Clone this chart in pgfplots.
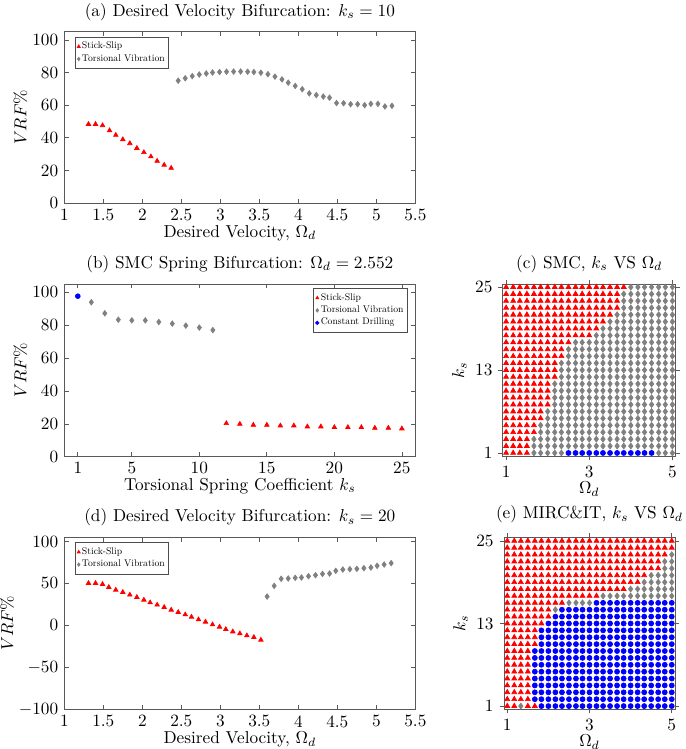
\documentclass[border=0pt]{standalone}
\usepackage{graphicx}
\usepackage{pgfplots}
\pgfplotsset{compat=1.18}
\definecolor{tvgray}{RGB}{128,128,128}
\newcommand\lt[1]{\scalebox{0.56}{#1}}
\pgfplotsset{
  base/.style={scale only axis, anchor=north west,
    axis line style={black!65}, every tick/.style={black!65},
    tick align=inside, major tick length=2.5pt,
    title style={yshift=-3pt}, xlabel shift=-4.5pt, ylabel shift=-4pt},
  ss/.style={only marks, mark=triangle*, mark size=1.5pt, color=red},
  tv/.style={only marks, mark=diamond*, mark size=1.6pt, color=tvgray},
  cd/.style={only marks, mark=*, mark size=1.4pt, color=blue},
  gss/.style={only marks, mark=triangle*, mark size=1.65pt, color=red},
  gtv/.style={only marks, mark=diamond*, mark size=1.7pt, color=tvgray},
  gcd/.style={only marks, mark=*, mark size=1.45pt, color=blue},
  leg/.style={legend style={draw=black!70, inner sep=1.2pt, row sep=-1.2pt, legend cell align=left,
    nodes={inner xsep=1pt, inner ysep=1.5pt}},
    legend image code/.code={\draw[##1, mark size=1pt] plot coordinates {(0.05cm,0cm)};}}
}
\begin{document}
\begin{tikzpicture}
\useasboundingbox (0,0) rectangle (397.3pt,-434.4pt);
% (a)
\begin{axis}[base, at={(37.3pt,-18.4pt)}, width=203.6pt, height=99.4pt,
  xmin=1, xmax=5.5, ymin=0, ymax=105,
  xtick={1,1.5,2,2.5,3,3.5,4,4.5,5,5.5}, xticklabels={1,1.5,2,2.5,3,3.5,4,4.5,5,5.5},
  ytick={0,20,40,60,80,100},
  title={(a) Desired Velocity Bifurcation: $k_s=10$},
  xlabel={Desired Velocity, $\Omega_d$}, ylabel={$VRF\%$},
  leg, legend style={at={(0.03,0.97)}, anchor=north west}]
\addplot[ss] coordinates {(1.31,48.4)(1.40,48.4)(1.49,47.6)(1.58,44.5)(1.66,41.7)(1.75,39.0)(1.84,36.6)(1.93,33.7)(2.02,31.1)(2.11,28.5)(2.19,25.8)(2.28,23.4)(2.37,21.5)};
\addplot[tv] coordinates {(2.46,75.0)(2.55,76.5)(2.64,77.8)(2.73,78.8)(2.82,79.4)(2.90,80.0)(2.99,80.3)(3.08,80.5)(3.17,80.6)(3.26,80.6)(3.35,80.5)(3.43,80.3)(3.52,79.9)(3.61,79.0)(3.70,77.5)(3.79,75.8)(3.87,73.8)(3.96,71.8)(4.05,69.8)(4.14,67.2)(4.23,66.2)(4.32,65.3)(4.40,64.6)(4.49,61.3)(4.58,61.2)(4.67,60.6)(4.76,60.6)(4.85,60.0)(4.93,60.8)(5.02,60.8)(5.11,59.2)(5.20,59.6)};
\legend{\lt{Stick-Slip}, \lt{Torsional Vibration}}
\end{axis}
% (b)
\begin{axis}[base, at={(37.3pt,-164.7pt)}, width=203.6pt, height=100.2pt,
  xmin=0, xmax=26, ymin=0, ymax=105,
  xtick={1,5,10,15,20,25}, ytick={0,20,40,60,80,100},
  title={(b) SMC Spring Bifurcation: $\Omega_d=2.552$},
  xlabel={Torsional Spring Coefficient $k_s$}, ylabel={$VRF\%$},
  leg, legend style={at={(0.978,0.975)}, anchor=north east}]
\addplot[ss] coordinates {(12,20.3)(13,19.9)(14,19.3)(15,19.3)(16,18.9)(17,18.9)(18,18.3)(19,18.3)(20,17.9)(21,17.9)(22,17.9)(23,17.5)(24,17.5)(25,17.1)};
\addplot[tv] coordinates {(2,93.9)(3,87.2)(4,83.3)(5,82.9)(6,82.9)(7,81.9)(8,80.9)(9,79.7)(10,78.5)(11,77.0)};
\addplot[cd] coordinates {(1,97.6)};
\legend{\lt{Stick-Slip}, \lt{Torsional Vibration}, \lt{Constant Drilling}}
\end{axis}
% (d)
\begin{axis}[base, at={(37.3pt,-311.6pt)}, width=203.6pt, height=99.8pt,
  xmin=1, xmax=5.5, ymin=-100, ymax=105,
  xtick={1,1.5,2,2.5,3,3.5,4,4.5,5,5.5}, xticklabels={1,1.5,2,2.5,3,3.5,4,4.5,5,5.5},
  ytick={-100,-50,0,50,100},
  title={(d) Desired Velocity Bifurcation: $k_s=20$},
  xlabel={Desired Velocity, $\Omega_d$}, ylabel={$VRF\%$},
  leg, legend style={at={(0.03,0.97)}, anchor=north west}]
\addplot[ss] coordinates {(1.31,50.3)(1.40,50.3)(1.49,49.1)(1.57,45.5)(1.66,42.3)(1.75,39.6)(1.84,36.4)(1.93,33.6)(2.02,30.4)(2.10,27.2)(2.19,24.5)(2.28,21.7)(2.37,18.5)(2.46,15.7)(2.55,12.9)(2.63,10.1)(2.72,7.0)(2.81,4.2)(2.90,1.0)(2.99,-1.8)(3.07,-4.6)(3.16,-7.4)(3.25,-9.7)(3.34,-12.1)(3.43,-14.1)(3.52,-17.3)};
\addplot[tv] coordinates {(3.60,34.4)(3.69,47.1)(3.78,55.5)(3.87,55.9)(3.96,56.7)(4.04,57.1)(4.13,58.6)(4.22,59.8)(4.31,61.4)(4.40,61.8)(4.48,65.0)(4.57,66.6)(4.66,67.0)(4.75,67.4)(4.84,68.2)(4.93,69.0)(5.01,71.0)(5.10,72.6)(5.19,74.2)};
\legend{\lt{Stick-Slip}, \lt{Torsional Vibration}}
\end{axis}
% (c)
\begin{axis}[base, at={(291.6pt,-164.7pt)}, width=100.3pt, height=99.8pt,
  xmin=0.92, xmax=5.08, ymin=0.55, ymax=25.45, tick align=outside,
  xtick={1,3,5}, ytick={1,13,25}, ylabel shift=-2pt,
  title={(c) SMC, $k_s$ VS $\Omega_d$},
  xlabel={$\Omega_d$}, ylabel={$k_s$}]
\addplot[gss] coordinates {
(1,25)(1.17,25)(1.33,25)(1.5,25)(1.67,25)(1.83,25)(2,25)(2.17,25)(2.33,25)(2.5,25)(2.67,25)(2.83,25)(3,25)(3.17,25)(3.33,25)(3.5,25)(3.67,25)(3.83,25)
(1,24)(1.17,24)(1.33,24)(1.5,24)(1.67,24)(1.83,24)(2,24)(2.17,24)(2.33,24)(2.5,24)(2.67,24)(2.83,24)(3,24)(3.17,24)(3.33,24)(3.5,24)(3.67,24)
(1,23)(1.17,23)(1.33,23)(1.5,23)(1.67,23)(1.83,23)(2,23)(2.17,23)(2.33,23)(2.5,23)(2.67,23)(2.83,23)(3,23)(3.17,23)(3.33,23)(3.5,23)(3.67,23)
(1,22)(1.17,22)(1.33,22)(1.5,22)(1.67,22)(1.83,22)(2,22)(2.17,22)(2.33,22)(2.5,22)(2.67,22)(2.83,22)(3,22)(3.17,22)(3.33,22)(3.5,22)(3.67,22)
(1,21)(1.17,21)(1.33,21)(1.5,21)(1.67,21)(1.83,21)(2,21)(2.17,21)(2.33,21)(2.5,21)(2.67,21)(2.83,21)(3,21)(3.17,21)(3.33,21)(3.5,21)
(1,20)(1.17,20)(1.33,20)(1.5,20)(1.67,20)(1.83,20)(2,20)(2.17,20)(2.33,20)(2.5,20)(2.67,20)(2.83,20)(3,20)(3.17,20)(3.33,20)
(1,19)(1.17,19)(1.33,19)(1.5,19)(1.67,19)(1.83,19)(2,19)(2.17,19)(2.33,19)(2.5,19)(2.67,19)(2.83,19)(3,19)(3.17,19)
(1,18)(1.17,18)(1.33,18)(1.5,18)(1.67,18)(1.83,18)(2,18)(2.17,18)(2.33,18)(2.5,18)(2.67,18)(2.83,18)(3,18)
(1,17)(1.17,17)(1.33,17)(1.5,17)(1.67,17)(1.83,17)(2,17)(2.17,17)(2.33,17)(2.5,17)
(1,16)(1.17,16)(1.33,16)(1.5,16)(1.67,16)(1.83,16)(2,16)(2.17,16)(2.33,16)
(1,15)(1.17,15)(1.33,15)(1.5,15)(1.67,15)(1.83,15)(2,15)(2.17,15)(2.33,15)
(1,14)(1.17,14)(1.33,14)(1.5,14)(1.67,14)(1.83,14)(2,14)(2.17,14)
(1,13)(1.17,13)(1.33,13)(1.5,13)(1.67,13)(1.83,13)(2,13)(2.17,13)
(1,12)(1.17,12)(1.33,12)(1.5,12)(1.67,12)(1.83,12)(2,12)(2.17,12)
(1,11)(1.17,11)(1.33,11)(1.5,11)(1.67,11)(1.83,11)(2,11)
(1,10)(1.17,10)(1.33,10)(1.5,10)(1.67,10)(1.83,10)(2,10)
(1,9)(1.17,9)(1.33,9)(1.5,9)(1.67,9)(1.83,9)(2,9)
(1,8)(1.17,8)(1.33,8)(1.5,8)(1.67,8)(1.83,8)(2,8)
(1,7)(1.17,7)(1.33,7)(1.5,7)(1.67,7)(1.83,7)
(1,6)(1.17,6)(1.33,6)(1.5,6)(1.67,6)(1.83,6)
(1,5)(1.17,5)(1.33,5)(1.5,5)(1.67,5)
(1,4)(1.17,4)(1.33,4)(1.5,4)(1.67,4)
(1,3)(1.17,3)(1.33,3)(1.5,3)
(1,2)(1.17,2)(1.33,2)(1.5,2)
(1,1)(1.17,1)(1.33,1)(1.5,1)
};
\addplot[gtv] coordinates {
(4,25)(4.17,25)(4.33,25)(4.5,25)(4.67,25)(4.83,25)(5,25)
(3.83,24)(4,24)(4.17,24)(4.33,24)(4.5,24)(4.67,24)(4.83,24)(5,24)
(3.83,23)(4,23)(4.17,23)(4.33,23)(4.5,23)(4.67,23)(4.83,23)(5,23)
(3.83,22)(4,22)(4.17,22)(4.33,22)(4.5,22)(4.67,22)(4.83,22)(5,22)
(3.67,21)(3.83,21)(4,21)(4.17,21)(4.33,21)(4.5,21)(4.67,21)(4.83,21)(5,21)
(3.5,20)(3.67,20)(3.83,20)(4,20)(4.17,20)(4.33,20)(4.5,20)(4.67,20)(4.83,20)(5,20)
(3.33,19)(3.5,19)(3.67,19)(3.83,19)(4,19)(4.17,19)(4.33,19)(4.5,19)(4.67,19)(4.83,19)(5,19)
(3.17,18)(3.33,18)(3.5,18)(3.67,18)(3.83,18)(4,18)(4.17,18)(4.33,18)(4.5,18)(4.67,18)(4.83,18)(5,18)
(2.67,17)(2.83,17)(3,17)(3.17,17)(3.33,17)(3.5,17)(3.67,17)(3.83,17)(4,17)(4.17,17)(4.33,17)(4.5,17)(4.67,17)(4.83,17)(5,17)
(2.5,16)(2.67,16)(2.83,16)(3,16)(3.17,16)(3.33,16)(3.5,16)(3.67,16)(3.83,16)(4,16)(4.17,16)(4.33,16)(4.5,16)(4.67,16)(4.83,16)(5,16)
(2.5,15)(2.67,15)(2.83,15)(3,15)(3.17,15)(3.33,15)(3.5,15)(3.67,15)(3.83,15)(4,15)(4.17,15)(4.33,15)(4.5,15)(4.67,15)(4.83,15)(5,15)
(2.33,14)(2.5,14)(2.67,14)(2.83,14)(3,14)(3.17,14)(3.33,14)(3.5,14)(3.67,14)(3.83,14)(4,14)(4.17,14)(4.33,14)(4.5,14)(4.67,14)(4.83,14)(5,14)
(2.33,13)(2.5,13)(2.67,13)(2.83,13)(3,13)(3.17,13)(3.33,13)(3.5,13)(3.67,13)(3.83,13)(4,13)(4.17,13)(4.33,13)(4.5,13)(4.67,13)(4.83,13)(5,13)
(2.33,12)(2.5,12)(2.67,12)(2.83,12)(3,12)(3.17,12)(3.33,12)(3.5,12)(3.67,12)(3.83,12)(4,12)(4.17,12)(4.33,12)(4.5,12)(4.67,12)(4.83,12)(5,12)
(2.17,11)(2.33,11)(2.5,11)(2.67,11)(2.83,11)(3,11)(3.17,11)(3.33,11)(3.5,11)(3.67,11)(3.83,11)(4,11)(4.17,11)(4.33,11)(4.5,11)(4.67,11)(4.83,11)(5,11)
(2.17,10)(2.33,10)(2.5,10)(2.67,10)(2.83,10)(3,10)(3.17,10)(3.33,10)(3.5,10)(3.67,10)(3.83,10)(4,10)(4.17,10)(4.33,10)(4.5,10)(4.67,10)(4.83,10)(5,10)
(2.17,9)(2.33,9)(2.5,9)(2.67,9)(2.83,9)(3,9)(3.17,9)(3.33,9)(3.5,9)(3.67,9)(3.83,9)(4,9)(4.17,9)(4.33,9)(4.5,9)(4.67,9)(4.83,9)(5,9)
(2.17,8)(2.33,8)(2.5,8)(2.67,8)(2.83,8)(3,8)(3.17,8)(3.33,8)(3.5,8)(3.67,8)(3.83,8)(4,8)(4.17,8)(4.33,8)(4.5,8)(4.67,8)(4.83,8)(5,8)
(2,7)(2.17,7)(2.33,7)(2.5,7)(2.67,7)(2.83,7)(3,7)(3.17,7)(3.33,7)(3.5,7)(3.67,7)(3.83,7)(4,7)(4.17,7)(4.33,7)(4.5,7)(4.67,7)(4.83,7)(5,7)
(2,6)(2.17,6)(2.33,6)(2.5,6)(2.67,6)(2.83,6)(3,6)(3.17,6)(3.33,6)(3.5,6)(3.67,6)(3.83,6)(4,6)(4.17,6)(4.33,6)(4.5,6)(4.67,6)(4.83,6)(5,6)
(1.83,5)(2,5)(2.17,5)(2.33,5)(2.5,5)(2.67,5)(2.83,5)(3,5)(3.17,5)(3.33,5)(3.5,5)(3.67,5)(3.83,5)(4,5)(4.17,5)(4.33,5)(4.5,5)(4.67,5)(4.83,5)(5,5)
(1.83,4)(2,4)(2.17,4)(2.33,4)(2.5,4)(2.67,4)(2.83,4)(3,4)(3.17,4)(3.33,4)(3.5,4)(3.67,4)(3.83,4)(4,4)(4.17,4)(4.33,4)(4.5,4)(4.67,4)(4.83,4)(5,4)
(1.67,3)(1.83,3)(2,3)(2.17,3)(2.33,3)(2.5,3)(2.67,3)(2.83,3)(3,3)(3.17,3)(3.33,3)(3.5,3)(3.67,3)(3.83,3)(4,3)(4.17,3)(4.33,3)(4.5,3)(4.67,3)(4.83,3)(5,3)
(1.67,2)(1.83,2)(2,2)(2.17,2)(2.33,2)(2.5,2)(2.67,2)(2.83,2)(3,2)(3.17,2)(3.33,2)(3.5,2)(3.67,2)(3.83,2)(4,2)(4.17,2)(4.33,2)(4.5,2)(4.67,2)(4.83,2)(5,2)
(1.67,1)(1.83,1)(2,1)(2.17,1)(2.33,1)(4.67,1)(4.83,1)(5,1)
};
\addplot[gcd] coordinates {
(2.5,1)(2.67,1)(2.83,1)(3,1)(3.17,1)(3.33,1)(3.5,1)(3.67,1)(3.83,1)(4,1)(4.17,1)(4.33,1)(4.5,1)
};
\end{axis}
% (e)
\begin{axis}[base, at={(292.3pt,-311.9pt)}, width=99.2pt, height=99.4pt,
  xmin=0.92, xmax=5.08, ymin=0.55, ymax=25.45, tick align=outside,
  xtick={1,3,5}, ytick={1,13,25}, ylabel shift=-2pt,
  title={(e) MIRC\&IT, $k_s$ VS $\Omega_d$}, title style={yshift=2pt},
  xlabel={$\Omega_d$}, ylabel={$k_s$}]
\addplot[gss] coordinates {
(1,25)(1.17,25)(1.33,25)(1.5,25)(1.67,25)(1.83,25)(2,25)(2.17,25)(2.33,25)(2.5,25)(2.67,25)(2.83,25)(3,25)(3.17,25)(3.33,25)(3.5,25)(3.67,25)(3.83,25)(4,25)(4.17,25)(4.33,25)(4.5,25)(4.67,25)(4.83,25)(5,25)
(1,24)(1.17,24)(1.33,24)(1.5,24)(1.67,24)(1.83,24)(2,24)(2.17,24)(2.33,24)(2.5,24)(2.67,24)(2.83,24)(3,24)(3.17,24)(3.33,24)(3.5,24)(3.67,24)(3.83,24)(4,24)(4.17,24)(4.33,24)(4.5,24)(4.67,24)(4.83,24)(5,24)
(1,23)(1.17,23)(1.33,23)(1.5,23)(1.67,23)(1.83,23)(2,23)(2.17,23)(2.33,23)(2.5,23)(2.67,23)(2.83,23)(3,23)(3.17,23)(3.33,23)(3.5,23)(3.67,23)(3.83,23)(4,23)(4.17,23)(4.33,23)(4.5,23)(4.67,23)(4.83,23)
(1,22)(1.17,22)(1.33,22)(1.5,22)(1.67,22)(1.83,22)(2,22)(2.17,22)(2.33,22)(2.5,22)(2.67,22)(2.83,22)(3,22)(3.17,22)(3.33,22)(3.5,22)(3.67,22)(3.83,22)(4,22)(4.17,22)(4.33,22)(4.5,22)(4.67,22)
(1,21)(1.17,21)(1.33,21)(1.5,21)(1.67,21)(1.83,21)(2,21)(2.17,21)(2.33,21)(2.5,21)(2.67,21)(2.83,21)(3,21)(3.17,21)(3.33,21)(3.5,21)(3.67,21)(3.83,21)(4,21)(4.17,21)(4.33,21)(4.5,21)(4.67,21)
(1,20)(1.17,20)(1.33,20)(1.5,20)(1.67,20)(1.83,20)(2,20)(2.17,20)(2.33,20)(2.5,20)(2.67,20)(2.83,20)(3,20)(3.17,20)(3.33,20)(3.5,20)(3.67,20)(3.83,20)(4,20)(4.17,20)(4.33,20)
(1,19)(1.17,19)(1.33,19)(1.5,19)(1.67,19)(1.83,19)(2,19)(2.17,19)(2.33,19)(2.5,19)(2.67,19)(2.83,19)(3,19)(3.17,19)(3.33,19)(3.5,19)(3.67,19)(3.83,19)(4,19)(4.17,19)
(1,18)(1.17,18)(1.33,18)(1.5,18)(1.67,18)(1.83,18)(2,18)(2.17,18)(2.33,18)(2.5,18)(2.67,18)(2.83,18)(3,18)(3.17,18)(3.33,18)(3.5,18)(3.67,18)(3.83,18)
(1,17)(1.17,17)(1.33,17)(1.5,17)(1.67,17)(1.83,17)(2,17)(2.17,17)(2.33,17)(2.5,17)(2.67,17)(2.83,17)(3,17)(3.17,17)
(1,16)(1.17,16)(1.33,16)(1.5,16)(1.67,16)(1.83,16)(2,16)(2.17,16)(2.33,16)
(1,15)(1.17,15)(1.33,15)(1.5,15)(1.67,15)(1.83,15)(2,15)
(1,14)(1.17,14)(1.33,14)(1.5,14)(1.67,14)(1.83,14)(2,14)
(1,13)(1.17,13)(1.33,13)(1.5,13)(1.67,13)(1.83,13)
(1,12)(1.17,12)(1.33,12)(1.5,12)(1.67,12)
(1,11)(1.17,11)(1.33,11)(1.5,11)(1.67,11)
(1,10)(1.17,10)(1.33,10)(1.5,10)(1.67,10)
(1,9)(1.17,9)(1.33,9)(1.5,9)
(1,8)(1.17,8)(1.33,8)(1.5,8)
(1,7)(1.17,7)(1.33,7)(1.5,7)
(1,6)(1.17,6)(1.33,6)(1.5,6)
(1,5)(1.17,5)(1.33,5)(1.5,5)
(1,4)(1.17,4)(1.33,4)(1.5,4)
(1,3)(1.17,3)(1.33,3)(1.5,3)
(1,2)(1.17,2)(1.33,2)(1.5,2)
(1,1)(1.17,1)(1.5,1)(1.67,1)
};
\addplot[gtv] coordinates {
(5,23)
(4.83,22)(5,22)
(4.83,21)(5,21)
(4.5,20)(4.67,20)(4.83,20)(5,20)
(4.33,19)(4.5,19)(4.67,19)(4.83,19)(5,19)
(4,18)(4.17,18)(4.33,18)(4.5,18)(4.67,18)(4.83,18)(5,18)
(3.33,17)(3.5,17)(3.67,17)(3.83,17)(4,17)(4.17,17)(4.33,17)(4.5,17)(4.67,17)(4.83,17)(5,17)
(2.5,16)(2.67,16)(2.83,16)(3,16)
(2.17,15)
(1.33,1)
};
\addplot[gcd] coordinates {
(3.17,16)(3.33,16)(3.5,16)(3.67,16)(3.83,16)(4,16)(4.17,16)(4.33,16)(4.5,16)(4.67,16)(4.83,16)(5,16)
(2.33,15)(2.5,15)(2.67,15)(2.83,15)(3,15)(3.17,15)(3.33,15)(3.5,15)(3.67,15)(3.83,15)(4,15)(4.17,15)(4.33,15)(4.5,15)(4.67,15)(4.83,15)(5,15)
(2.17,14)(2.33,14)(2.5,14)(2.67,14)(2.83,14)(3,14)(3.17,14)(3.33,14)(3.5,14)(3.67,14)(3.83,14)(4,14)(4.17,14)(4.33,14)(4.5,14)(4.67,14)(4.83,14)(5,14)
(2,13)(2.17,13)(2.33,13)(2.5,13)(2.67,13)(2.83,13)(3,13)(3.17,13)(3.33,13)(3.5,13)(3.67,13)(3.83,13)(4,13)(4.17,13)(4.33,13)(4.5,13)(4.67,13)(4.83,13)(5,13)
(1.83,12)(2,12)(2.17,12)(2.33,12)(2.5,12)(2.67,12)(2.83,12)(3,12)(3.17,12)(3.33,12)(3.5,12)(3.67,12)(3.83,12)(4,12)(4.17,12)(4.33,12)(4.5,12)(4.67,12)(4.83,12)(5,12)
(1.83,11)(2,11)(2.17,11)(2.33,11)(2.5,11)(2.67,11)(2.83,11)(3,11)(3.17,11)(3.33,11)(3.5,11)(3.67,11)(3.83,11)(4,11)(4.17,11)(4.33,11)(4.5,11)(4.67,11)(4.83,11)(5,11)
(1.83,10)(2,10)(2.17,10)(2.33,10)(2.5,10)(2.67,10)(2.83,10)(3,10)(3.17,10)(3.33,10)(3.5,10)(3.67,10)(3.83,10)(4,10)(4.17,10)(4.33,10)(4.5,10)(4.67,10)(4.83,10)(5,10)
(1.67,9)(1.83,9)(2,9)(2.17,9)(2.33,9)(2.5,9)(2.67,9)(2.83,9)(3,9)(3.17,9)(3.33,9)(3.5,9)(3.67,9)(3.83,9)(4,9)(4.17,9)(4.33,9)(4.5,9)(4.67,9)(4.83,9)(5,9)
(1.67,8)(1.83,8)(2,8)(2.17,8)(2.33,8)(2.5,8)(2.67,8)(2.83,8)(3,8)(3.17,8)(3.33,8)(3.5,8)(3.67,8)(3.83,8)(4,8)(4.17,8)(4.33,8)(4.5,8)(4.67,8)(4.83,8)(5,8)
(1.67,7)(1.83,7)(2,7)(2.17,7)(2.33,7)(2.5,7)(2.67,7)(2.83,7)(3,7)(3.17,7)(3.33,7)(3.5,7)(3.67,7)(3.83,7)(4,7)(4.17,7)(4.33,7)(4.5,7)(4.67,7)(4.83,7)(5,7)
(1.67,6)(1.83,6)(2,6)(2.17,6)(2.33,6)(2.5,6)(2.67,6)(2.83,6)(3,6)(3.17,6)(3.33,6)(3.5,6)(3.67,6)(3.83,6)(4,6)(4.17,6)(4.33,6)(4.5,6)(4.67,6)(4.83,6)(5,6)
(1.67,5)(1.83,5)(2,5)(2.17,5)(2.33,5)(2.5,5)(2.67,5)(2.83,5)(3,5)(3.17,5)(3.33,5)(3.5,5)(3.67,5)(3.83,5)(4,5)(4.17,5)(4.33,5)(4.5,5)(4.67,5)(4.83,5)(5,5)
(1.67,4)(1.83,4)(2,4)(2.17,4)(2.33,4)(2.5,4)(2.67,4)(2.83,4)(3,4)(3.17,4)(3.33,4)(3.5,4)(3.67,4)(3.83,4)(4,4)(4.17,4)(4.33,4)(4.5,4)(4.67,4)(4.83,4)(5,4)
(1.67,3)(1.83,3)(2,3)(2.17,3)(2.33,3)(2.5,3)(2.67,3)(2.83,3)(3,3)(3.17,3)(3.33,3)(3.5,3)(3.67,3)(3.83,3)(4,3)(4.17,3)(4.33,3)(4.5,3)(4.67,3)(4.83,3)(5,3)
(1.67,2)(1.83,2)(2,2)(2.17,2)(2.33,2)(2.5,2)(2.67,2)(2.83,2)(3,2)(3.17,2)(3.33,2)(3.5,2)(3.67,2)(3.83,2)(4,2)(4.17,2)(4.33,2)(4.5,2)(4.67,2)(4.83,2)(5,2)
(1.83,1)(2,1)(2.17,1)(2.33,1)(2.5,1)(2.67,1)(2.83,1)(3,1)(3.17,1)(3.33,1)(3.5,1)(3.67,1)(3.83,1)(4,1)(4.17,1)(4.33,1)(4.5,1)(4.67,1)(4.83,1)(5,1)
};
\end{axis}
\end{tikzpicture}
\end{document}
